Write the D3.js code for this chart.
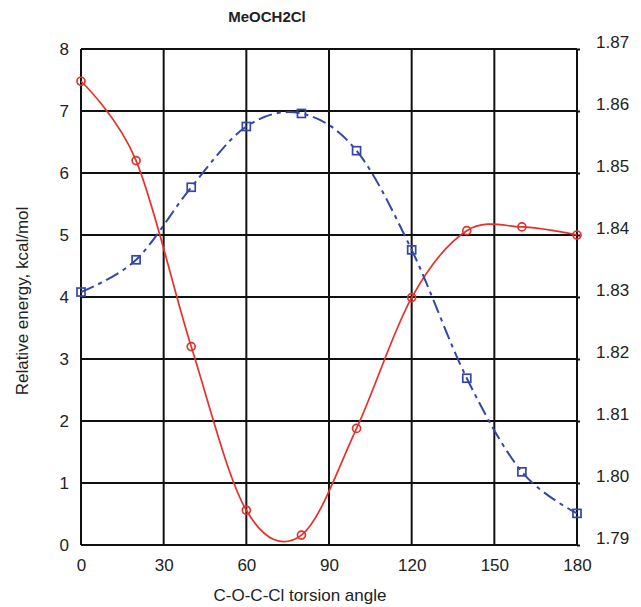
<!DOCTYPE html>
<html>
<head>
<meta charset="utf-8">
<script src="https://cdn.jsdelivr.net/npm/d3@7"></script>
<style>
  body { margin: 0; background: #fff; }
  text { font-family: Arial, "Liberation Sans", sans-serif; fill: #222; }
</style>
</head>
<body>
<div id="chart"></div>
<script>
// torsion angles (deg)
var angles = [0, 20, 40, 60, 80, 100, 120, 140, 160, 180]
// relative energy, kcal/mol (left axis)
var energy = [7.48, 6.2, 3.2, 0.56, 0.16, 1.88, 3.99, 5.07, 5.13, 5.0]
// C-Cl bond length (right axis)
var bondLength = [1.8308, 1.8360, 1.8477, 1.8575, 1.8596, 1.8536, 1.8376, 1.8169, 1.8018, 1.7951]

var xTicks = [0, 30, 60, 90, 120, 150, 180]
var leftTicks = [0, 1, 2, 3, 4, 5, 6, 7, 8]
var rightTicks = [1.79, 1.80, 1.81, 1.82, 1.83, 1.84, 1.85, 1.86, 1.87]

var width = 641
var height = 607
var margin = {top: 49, right: 64, bottom: 62, left: 81}

var svg = d3.select('#chart').append('svg')
    .attr('width', width)
    .attr('height', height)

var x = d3.scaleLinear()
    .domain([0, 180])
    .range([margin.left, width - margin.right])
var yLeft = d3.scaleLinear()
    .domain([0, 8])
    .range([height - margin.bottom, margin.top])
var yRight = d3.scaleLinear()
    .domain([1.79, 1.87])
    .range([height - margin.bottom, margin.top])

// grid
var grid = svg.append('g')
grid.selectAll('line.h')
    .data(leftTicks)
    .enter().append('line')
    .attr('x1', x(0)).attr('x2', x(180))
    .attr('y1', d => yLeft(d)).attr('y2', d => yLeft(d))
    .attr('stroke', '#111').attr('stroke-width', 2)
grid.selectAll('line.v')
    .data(xTicks)
    .enter().append('line')
    .attr('x1', d => x(d)).attr('x2', d => x(d))
    .attr('y1', yLeft(0)).attr('y2', yLeft(8))
    .attr('stroke', '#111').attr('stroke-width', 2)

// axes
var xAxis = svg.append('g')
    .attr('transform', 'translate(0,' + yLeft(0) + ')')
    .call(d3.axisBottom(x).tickValues(xTicks).tickSize(0).tickPadding(14))
var leftAxis = svg.append('g')
    .attr('transform', 'translate(' + x(0) + ',0)')
    .call(d3.axisLeft(yLeft).tickValues(leftTicks).tickSize(0).tickPadding(12))
var rightAxis = svg.append('g')
    .attr('transform', 'translate(' + x(180) + ',0)')
    .call(d3.axisRight(yRight).tickValues(rightTicks).tickSize(3).tickPadding(16)
        .tickFormat(d3.format('.2f')))

svg.selectAll('.domain').remove()
svg.selectAll('.tick line').attr('stroke', '#111').attr('stroke-width', 2)
svg.selectAll('.tick text').style('font-size', '17px').attr('fill', '#222')
rightAxis.selectAll('.tick text').attr('dy', '-0.1em')

// energy (red)
var line1 = d3.line()
    .x((d, i) => x(angles[i]))
    .y(d => yLeft(d))
    .curve(d3.curveCardinal.tension(0))
svg.append('path')
    .datum(energy)
    .attr('d', line1)
    .attr('fill', 'none')
    .attr('stroke', '#e8302a')
    .attr('stroke-width', 1.7)
svg.selectAll('circle.e')
    .data(energy)
    .enter().append('circle')
    .attr('cx', (d, i) => x(angles[i]))
    .attr('cy', d => yLeft(d))
    .attr('r', 4)
    .attr('fill', 'none')
    .attr('stroke', '#e8302a')
    .attr('stroke-width', 1.7)

// bond length (blue dashed)
var line2 = d3.line()
    .x((d, i) => x(angles[i]))
    .y(d => yRight(d))
    .curve(d3.curveCardinal.tension(0))
svg.append('path')
    .datum(bondLength)
    .attr('d', line2)
    .attr('fill', 'none')
    .attr('stroke', '#3347a8')
    .attr('stroke-width', 2)
    .attr('stroke-dasharray', '14,5,4,5')
svg.selectAll('rect.b')
    .data(bondLength)
    .enter().append('rect')
    .attr('x', (d, i) => x(angles[i]) - 4)
    .attr('y', d => yRight(d) - 4)
    .attr('width', 8)
    .attr('height', 8)
    .attr('fill', 'none')
    .attr('stroke', '#3347a8')
    .attr('stroke-width', 1.7)

// title and axis labels
svg.append('text')
    .attr('x', 267).attr('y', 22)
    .attr('text-anchor', 'middle')
    .style('font-size', '15px').style('font-weight', 'bold')
    .text('MeOCH2Cl')
svg.append('text')
    .attr('x', 300).attr('y', 601)
    .attr('text-anchor', 'middle')
    .style('font-size', '17px')
    .text('C-O-C-Cl torsion angle')
svg.append('text')
    .attr('transform', 'translate(28,301) rotate(-90)')
    .attr('text-anchor', 'middle')
    .style('font-size', '17px')
    .text('Relative energy, kcal/mol')
</script>
</body>
</html>
